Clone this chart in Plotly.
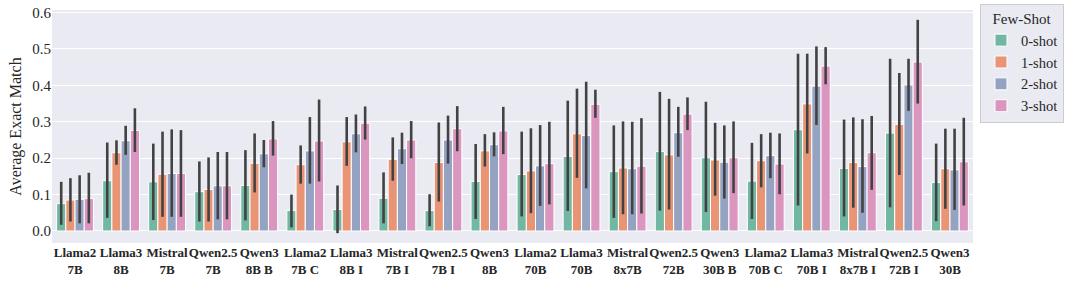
import plotly.graph_objects as go

models = ["Llama2<br>7B", "Llama3<br>8B", "Mistral<br>7B", "Qwen2.5<br>7B", "Qwen3<br>8B B",
          "Llama2<br>7B C", "Llama3<br>8B I", "Mistral<br>7B I", "Qwen2.5<br>7B I", "Qwen3<br>8B",
          "Llama2<br>70B", "Llama3<br>70B", "Mistral<br>8x7B", "Qwen2.5<br>72B", "Qwen3<br>30B B",
          "Llama2<br>70B C", "Llama3<br>70B I", "Mistral<br>8x7B I", "Qwen2.5<br>72B I", "Qwen3<br>30B"]

shots = ["0-shot", "1-shot", "2-shot", "3-shot"]

mean_0 = [0.075, 0.138, 0.135, 0.108, 0.125, 0.056, 0.059, 0.090, 0.056, 0.136,
          0.155, 0.205, 0.163, 0.218, 0.201, 0.137, 0.278, 0.172, 0.269, 0.133]
mean_1 = [0.085, 0.215, 0.156, 0.114, 0.186, 0.182, 0.245, 0.197, 0.188, 0.220,
          0.165, 0.267, 0.173, 0.209, 0.195, 0.193, 0.349, 0.188, 0.293, 0.171]
mean_2 = [0.087, 0.248, 0.158, 0.124, 0.212, 0.220, 0.267, 0.226, 0.250, 0.237,
          0.179, 0.262, 0.171, 0.270, 0.189, 0.207, 0.398, 0.177, 0.401, 0.168]
mean_3 = [0.089, 0.276, 0.158, 0.124, 0.253, 0.247, 0.296, 0.250, 0.281, 0.275,
          0.185, 0.348, 0.178, 0.321, 0.201, 0.184, 0.453, 0.215, 0.464, 0.190]

hi_0 = [0.135, 0.243, 0.240, 0.191, 0.222, 0.100, 0.125, 0.161, 0.101, 0.239,
        0.273, 0.358, 0.290, 0.382, 0.355, 0.242, 0.487, 0.306, 0.473, 0.240]
lo_0 = [0.017, 0.036, 0.030, 0.026, 0.029, 0.010, -0.006, 0.021, 0.013, 0.033,
        0.040, 0.055, 0.036, 0.056, 0.052, 0.033, 0.070, 0.040, 0.065, 0.027]
hi_1 = [0.145, 0.249, 0.273, 0.202, 0.268, 0.235, 0.313, 0.257, 0.298, 0.266,
        0.282, 0.391, 0.301, 0.363, 0.297, 0.266, 0.487, 0.312, 0.434, 0.281]
lo_1 = [0.026, 0.182, 0.039, 0.026, 0.106, 0.130, 0.179, 0.138, 0.081, 0.177,
        0.049, 0.146, 0.046, 0.059, 0.097, 0.120, 0.213, 0.064, 0.154, 0.061]
hi_2 = [0.153, 0.289, 0.279, 0.217, 0.250, 0.313, 0.320, 0.270, 0.317, 0.271,
        0.291, 0.410, 0.300, 0.341, 0.290, 0.270, 0.507, 0.307, 0.473, 0.281]
lo_2 = [0.021, 0.209, 0.039, 0.032, 0.175, 0.130, 0.216, 0.184, 0.185, 0.205,
        0.069, 0.117, 0.046, 0.204, 0.089, 0.145, 0.291, 0.050, 0.330, 0.058]
hi_3 = [0.160, 0.337, 0.277, 0.217, 0.302, 0.361, 0.342, 0.302, 0.343, 0.341,
        0.300, 0.388, 0.310, 0.367, 0.301, 0.268, 0.505, 0.316, 0.580, 0.311]
lo_3 = [0.021, 0.217, 0.039, 0.032, 0.207, 0.136, 0.251, 0.200, 0.219, 0.211,
        0.073, 0.311, 0.048, 0.277, 0.104, 0.101, 0.403, 0.113, 0.350, 0.070]

colors = ["#71b7a1", "#e99575", "#95a3c3", "#db96c0"]

means = [mean_0, mean_1, mean_2, mean_3]
his = [hi_0, hi_1, hi_2, hi_3]
los = [lo_0, lo_1, lo_2, lo_3]

fig = go.Figure()
for name, m, h, l, c in zip(shots, means, his, los, colors):
    fig.add_trace(go.Bar(
        x=models, y=m, name=name,
        marker=dict(color=c, line=dict(color="white", width=1)),
        error_y=dict(type="data", symmetric=False,
                     array=[hh - mm for hh, mm in zip(h, m)],
                     arrayminus=[mm - ll for mm, ll in zip(m, l)],
                     color="#424242", thickness=2.6, width=0),
    ))

font_family = "Liberation Serif"
fig.update_layout(
    width=1080, height=284,
    margin=dict(l=52, r=107, t=10, b=41, autoexpand=False),
    paper_bgcolor="white",
    plot_bgcolor="#EAEAF2",
    barmode="group", bargap=0.2, bargroupgap=0,
    font=dict(family=font_family, color="#262626", size=14),
    showlegend=True,
    legend=dict(
        title=dict(text="Few-Shot", side="top center", font=dict(size=15, family=font_family)),
        x=1.0076, xanchor="left", y=1.027, yanchor="top",
        bgcolor="#EAEAF2", bordercolor="#CCCCCC", borderwidth=1,
        font=dict(size=14.5, family=font_family),
        tracegroupgap=2,
    ),
    xaxis=dict(
        showgrid=False, ticks="", zeroline=False, tickangle=0, automargin=False,
        tickfont=dict(size=13, family=font_family, color="#262626", weight="bold"),
        range=[-0.5, 19.5],
    ),
    yaxis=dict(
        title=dict(text="Average Exact Match", font=dict(size=16, family=font_family), standoff=6),
        range=[-0.033, 0.607], automargin=False,
        tickvals=[0.0, 0.1, 0.2, 0.3, 0.4, 0.5, 0.6],
        tickformat=".1f", ticklabeloverflow="allow",
        showgrid=True, gridcolor="white", gridwidth=1.2,
        zeroline=False, ticks="",
        tickfont=dict(size=15, family=font_family, color="#262626"),
    ),
)

fig.write_html("out.html", config={"displayModeBar": False},
               post_script="document.body.style.margin='0';")
